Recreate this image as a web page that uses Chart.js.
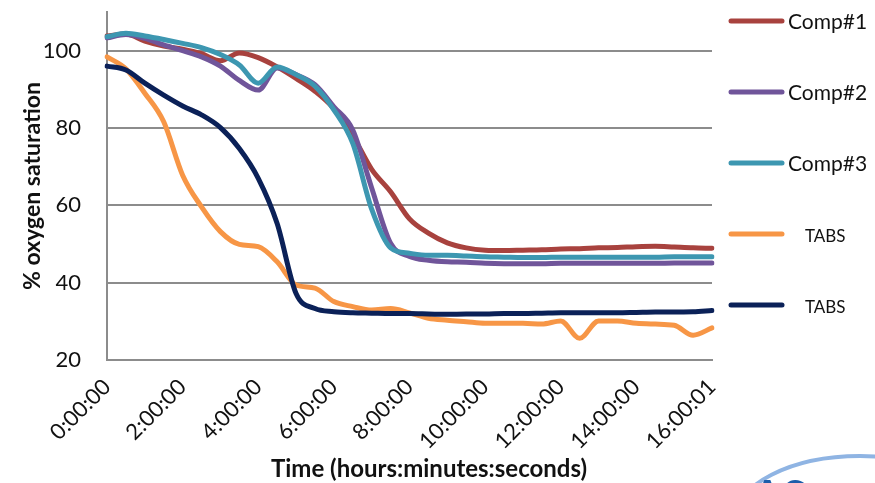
<!DOCTYPE html>
<html>
<head>
<meta charset="utf-8">
<script src="https://cdn.jsdelivr.net/npm/chart.js@4.4.1/dist/chart.umd.min.js"></script>
<style>
  html, body { margin: 0; padding: 0; background: #fff; }
  #wrap { width: 875px; height: 483px; }
</style>
</head>
<body>
<div id="wrap"><canvas id="oxyChart" width="875" height="483"></canvas></div>
<script>
// time points every 30 minutes
const times = ['0:00:00', '0:30:00', '1:00:00', '1:30:00', '2:00:00', '2:30:00', '3:00:00', '3:30:00',
  '4:00:00', '4:30:00', '5:00:00', '5:30:00', '6:00:00', '6:30:00', '7:00:00', '7:30:00',
  '8:00:00', '8:30:00', '9:00:00', '9:30:00', '10:00:00', '10:30:00', '11:00:00', '11:30:00',
  '12:00:00', '12:30:00', '13:00:00', '13:30:00', '14:00:00', '14:30:00', '15:00:00', '15:30:00', '16:00:01'];

const comp1 = [103.8, 104.3, 102.5, 101.2, 100.4, 99.2, 97.4, 99.4, 98.2, 95.8, 92.8, 89.5, 85.0, 78.0, 69.3, 63.5,
  56.5, 52.8, 50.3, 49.0, 48.4, 48.3, 48.4, 48.5, 48.7, 48.8, 49.0, 49.1, 49.3, 49.4, 49.2, 49.0, 48.9];
const comp2 = [103.3, 104.2, 103.2, 101.5, 100.0, 98.4, 96.0, 92.3, 89.8, 95.5, 93.8, 91.2, 85.5, 79.5, 64.5, 50.2,
  46.8, 45.8, 45.4, 45.3, 45.0, 44.9, 44.9, 44.9, 45.0, 45.0, 45.0, 45.0, 45.0, 45.0, 45.1, 45.1, 45.1];
const comp3 = [103.6, 104.5, 103.8, 102.9, 101.9, 100.8, 99.0, 96.3, 91.6, 95.8, 93.8, 90.8, 84.7, 76.0, 59.0, 49.0,
  47.6, 47.1, 47.1, 46.9, 46.7, 46.6, 46.5, 46.5, 46.6, 46.6, 46.6, 46.6, 46.6, 46.6, 46.7, 46.7, 46.7];
const tabsA = [98.4, 95.3, 89.0, 81.6, 67.8, 59.6, 53.2, 49.9, 49.3, 45.4, 39.4, 38.6, 35.1, 33.8, 32.9, 33.3,
  32.2, 30.8, 30.3, 29.9, 29.5, 29.5, 29.5, 29.3, 30.1, 25.6, 30.1, 30.1, 29.5, 29.3, 29.0, 26.4, 28.3];
const tabsB = [96.0, 95.0, 91.6, 88.5, 85.7, 83.4, 80.1, 74.7, 67.0, 55.3, 37.2, 33.3, 32.5, 32.2, 32.1, 32.0,
  32.0, 31.9, 31.8, 31.9, 31.9, 32.0, 32.0, 32.1, 32.2, 32.2, 32.2, 32.2, 32.3, 32.4, 32.4, 32.5, 32.8];

const seriesNames = ['Comp#1', 'Comp#2', 'Comp#3', 'TABS', 'TABS'];
const seriesColors = ['#A8423E', '#70559A', '#3D97B1', '#F79646', '#0B2158'];
const yTicks = [20, 40, 60, 80, 100];
const xTitle = 'Time (hours:minutes:seconds)';

const FONT = 'Lato, "Open Sans", sans-serif';

function makeSet(i, values) {
  return {
    label: seriesNames[i],
    data: values,
    borderColor: seriesColors[i],
    backgroundColor: seriesColors[i],
    borderWidth: 5,
    pointRadius: 0,
    cubicInterpolationMode: 'monotone',
    borderCapStyle: 'round',
    borderJoinStyle: 'round',
    order: 5 - i
  };
}

// right-hand legend + x title, drawn by hand so they sit where the original has them
const sideLegend = {
  id: 'sideLegend',
  afterDraw(chart) {
    const ctx = chart.ctx;
    ctx.save();
    chart.data.datasets.forEach((ds, i) => {
      const y = 21 + i * 71;
      ctx.strokeStyle = ds.borderColor;
      ctx.lineWidth = 5;
      ctx.lineCap = 'round';
      ctx.beginPath();
      ctx.moveTo(731, y);
      ctx.lineTo(782, y);
      ctx.stroke();
      ctx.fillStyle = '#111';
      ctx.textBaseline = 'middle';
      ctx.textAlign = 'left';
      if (i < 3) {
        ctx.font = '21px ' + FONT;
        ctx.fillText(ds.label, 788, y + 1);
      } else {
        ctx.font = '17px ' + FONT;
        ctx.fillText(ds.label, 805, y + 3);
      }
    });

    ctx.font = 'bold 24px ' + FONT;
    ctx.textAlign = 'center';
    ctx.textBaseline = 'middle';
    ctx.fillStyle = '#111';
    ctx.fillText(xTitle, 429, 469);

    // bit of the logo peeking in at the bottom right
    ctx.strokeStyle = '#8FB4E3';
    ctx.lineWidth = 4;
    ctx.beginPath();
    ctx.ellipse(860, 520, 125, 64, 0, Math.PI, 2 * Math.PI);
    ctx.stroke();
    ctx.fillStyle = '#1B5DAA';
    ctx.font = 'bold 44px ' + FONT;
    ctx.textAlign = 'left';
    ctx.textBaseline = 'top';
    ctx.fillText('AS', 752, 476);
    ctx.restore();
  }
};

const ctx = document.getElementById('oxyChart').getContext('2d');
const chart = new Chart(ctx, {
  type: 'line',
  data: {
    labels: times,
    datasets: [
      makeSet(0, comp1),
      makeSet(1, comp2),
      makeSet(2, comp3),
      makeSet(3, tabsA),
      makeSet(4, tabsB)
    ]
  },
  options: {
    responsive: false,
    animation: false,
    devicePixelRatio: 1,
    layout: { padding: { top: 12, right: 163, left: 0, bottom: 0 } },
    plugins: {
      legend: { display: false },
      tooltip: { enabled: false }
    },
    scales: {
      x: {
        grid: { display: false, drawTicks: false },
        border: { display: true, color: '#8c8c8c', width: 2 },
        ticks: {
          autoSkip: false,
          minRotation: 45,
          maxRotation: 45,
          padding: 14,
          color: '#111',
          font: { family: FONT, size: 22 },
          callback: (v, i) => (i % 4 === 0 ? times[i] : '')
        },
        afterFit: (scale) => {
          scale.height = 123;
          scale.paddingLeft = 0;
          scale.paddingRight = 0;
        }
      },
      y: {
        min: 20,
        max: 110,
        grid: { color: '#8c8c8c', lineWidth: 2, drawTicks: false },
        border: { display: true, color: '#8c8c8c', width: 2 },
        afterBuildTicks: (scale) => { scale.ticks = yTicks.map(v => ({ value: v })); },
        ticks: {
          padding: 26,
          color: '#111',
          font: { family: FONT, size: 22 }
        },
        title: {
          display: true,
          text: '% oxygen saturation',
          color: '#111',
          font: { family: FONT, size: 23, weight: 'bold' },
          padding: { top: 19, bottom: 0 }
        },
        afterFit: (scale) => {
          scale.width = 107;
          scale.paddingTop = 0;
          scale.paddingBottom = 0;
        }
      }
    }
  },
  plugins: [sideLegend]
});
</script>
</body>
</html>
